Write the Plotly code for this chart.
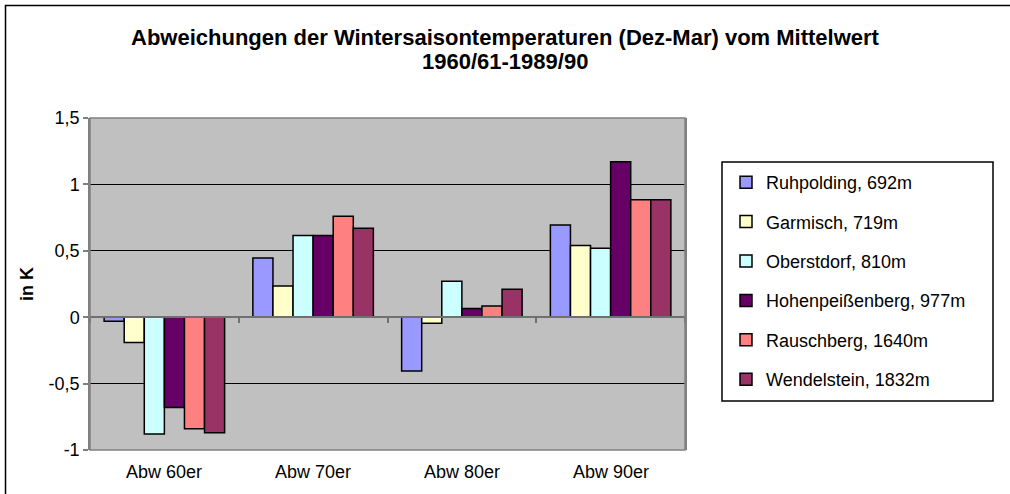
import plotly.graph_objects as go

# ---- data ----
categories = ["Abw 60er", "Abw 70er", "Abw 80er", "Abw 90er"]
stations = ["Ruhpolding, 692m", "Garmisch, 719m", "Oberstdorf, 810m",
            "Hohenpeißenberg, 977m", "Rauschberg, 1640m", "Wendelstein, 1832m"]
ruhpolding = [-0.03, 0.445, -0.405, 0.695]
garmisch = [-0.19, 0.235, -0.045, 0.54]
oberstdorf = [-0.88, 0.615, 0.27, 0.52]
hohenpeissenberg = [-0.68, 0.615, 0.065, 1.17]
rauschberg = [-0.84, 0.76, 0.085, 0.885]
wendelstein = [-0.87, 0.67, 0.21, 0.885]
colors = ["#9999FF", "#FFFFCC", "#CCFFFF", "#660066", "#FF8080", "#993366"]
series = [ruhpolding, garmisch, oberstdorf, hohenpeissenberg, rauschberg, wendelstein]
y_ticks = [-1, -0.5, 0, 0.5, 1, 1.5]
y_ticktext = ["-1", "-0,5", "0", "0,5", "1", "1,5"]
title_lines = ["Abweichungen der Wintersaisontemperaturen (Dez-Mar) vom Mittelwert",
               "1960/61-1989/90"]

W, H = 1010, 494
L, R, T, B = 90, 325, 118, 44
pw, ph = W - L - R, H - T - B


def px(x):
    return (x - L) / pw


def py(y):
    return (H - B - y) / ph


FONT = "Arial, Liberation Sans, sans-serif"

fig = go.Figure()
for name, vals, col in zip(stations, series, colors):
    fig.add_trace(go.Bar(
        x=categories, y=vals, name=name, legendgroup=name,
        marker=dict(color=col, line=dict(color="black", width=1.5)),
    ))

ymin, ymax = y_ticks[0], y_ticks[-1]
zero_pos = (0 - ymin) / (ymax - ymin)

annotations = []
for i, line in enumerate(title_lines):
    annotations.append(dict(
        text="<b>%s</b>" % line, xref="paper", yref="paper",
        x=px(W / 2), y=py(38 + 24 * i), xanchor="center", yanchor="middle",
        showarrow=False, font=dict(family=FONT, size=22, color="black"),
    ))
for c in categories:
    annotations.append(dict(
        text=c, xref="x", yref="paper", x=c, y=py(472),
        xanchor="center", yanchor="middle", showarrow=False,
        font=dict(family=FONT, size=18, color="black"),
    ))

fig.update_layout(
    width=W, height=H,
    margin=dict(l=L, r=R, t=T, b=B),
    paper_bgcolor="white",
    plot_bgcolor="#C0C0C0",
    font=dict(family=FONT, size=18, color="black"),
    barmode="group", bargap=0.19, bargroupgap=0,
    xaxis=dict(
        type="category", anchor="free", position=zero_pos,
        showline=True, linecolor="#707070", linewidth=1.5,
        ticks="outside", tickson="boundaries", ticklen=5, tickcolor="#707070",
        tickwidth=1.5, showticklabels=False, showgrid=False,
    ),
    yaxis=dict(
        range=[ymin, ymax], tickvals=y_ticks, ticktext=y_ticktext,
        showgrid=True, gridcolor="black", gridwidth=1, zeroline=False,
        showline=True, linecolor="#808080", linewidth=1.5, mirror=True,
        ticks="outside", ticklen=5, tickcolor="#808080", tickwidth=1.5,
        tickfont=dict(size=18),
        title=dict(text="<b>in K</b>", standoff=10, font=dict(size=18)),
    ),
    legend=dict(
        x=px(726), y=py(164), xanchor="left", yanchor="top",
        bgcolor="rgba(0,0,0,0)", borderwidth=0,
        font=dict(size=18), tracegroupgap=13, traceorder="grouped",
        itemwidth=30,
    ),
    annotations=annotations,
    shapes=[
        dict(type="rect", xref="paper", yref="paper", x0=0, x1=1, y0=0, y1=1,
             line=dict(color="#808080", width=1.5), fillcolor="rgba(0,0,0,0)"),
        dict(type="rect", xref="paper", yref="paper",
             x0=px(722), x1=px(993), y0=py(162), y1=py(401),
             line=dict(color="black", width=1.5), fillcolor="rgba(0,0,0,0)", layer="below"),
        dict(type="rect", xref="paper", yref="paper",
             x0=px(5.5), x1=px(1020), y0=py(5.5), y1=py(510),
             line=dict(color="black", width=1.5), fillcolor="rgba(0,0,0,0)", layer="below"),
    ],
)

fig.write_html("out.html", config={"displayModeBar": False},
               post_script="document.body.style.margin='0';")
